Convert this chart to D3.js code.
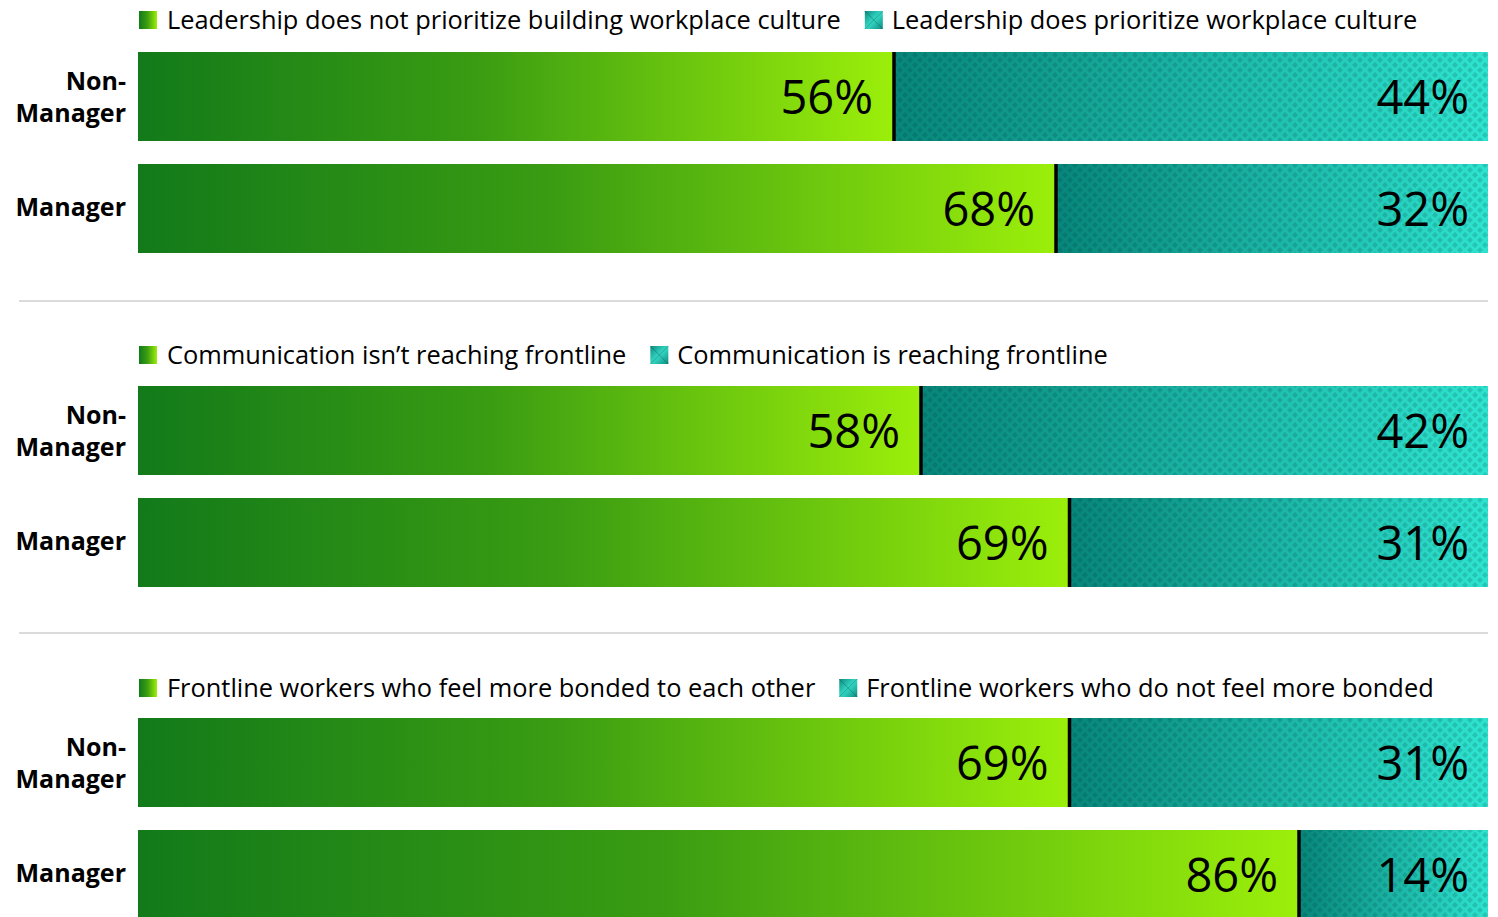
<!DOCTYPE html>
<html>
<head>
<meta charset="utf-8">
<script src="https://cdn.jsdelivr.net/npm/d3@7"></script>
<style>
	body { margin: 0; background: #fff; }
	svg { display: block; }
	text { font-family: "Open Sans", "Noto Sans", sans-serif; fill: #000; }
</style>
</head>
<body>
<svg width="1498" height="917"></svg>
<script>
// chart data
const rows = ["Non-Manager", "Manager"];
const legendLeft = [
	"Leadership does not prioritize building workplace culture",
	"Communication isn\u2019t reaching frontline",
	"Frontline workers who feel more bonded to each other",
];
const legendRight = [
	"Leadership does prioritize workplace culture",
	"Communication is reaching frontline",
	"Frontline workers who do not feel more bonded",
];
const leftValues = [
	[56, 68],
	[58, 69],
	[69, 86],
];

const svg = d3.select("svg");
const left = 138,
	right = 1488,
	barH = 89,
	barGap = 112;
const panelTop = [52, 386, 718];
const legendY = [20, 355, 688];
const dividerY = [301, 633];

const x = d3.scaleLinear().domain([0, 100]).range([left, right]);

const defs = svg.append("defs");
const green = defs.append("linearGradient").attr("id", "green");
green.append("stop").attr("offset", "0").attr("stop-color", "#127a1a");
green.append("stop").attr("offset", "0.45").attr("stop-color", "#3a9c12");
green.append("stop").attr("offset", "1").attr("stop-color", "#9cef0a");

const teal = defs.append("linearGradient").attr("id", "teal");
teal.append("stop").attr("offset", "0").attr("stop-color", "#07867a");
teal.append("stop").attr("offset", "1").attr("stop-color", "#2ee4d0");

// diamond texture laid over the teal
const pat = defs
	.append("pattern")
	.attr("id", "dots")
	.attr("patternUnits", "userSpaceOnUse")
	.attr("width", 10)
	.attr("height", 10);
const dpath = "M5,2 L8,5 L5,8 L2,5 Z M0,-3 L3,0 L0,3 L-3,0 Z M10,-3 L13,0 L10,3 L7,0 Z M0,7 L3,10 L0,13 L-3,10 Z M10,7 L13,10 L10,13 L7,10 Z";
pat.append("path").attr("d", dpath).attr("fill", "rgba(0,50,45,0.17)");

const tealSw = defs.append("linearGradient").attr("id", "tealsw").attr("x2", "1").attr("y2", "1");
tealSw.append("stop").attr("offset", "0").attr("stop-color", "#0c8c80");
tealSw.append("stop").attr("offset", "0.5").attr("stop-color", "#35d7c4");
tealSw.append("stop").attr("offset", "1").attr("stop-color", "#0c8c80");

leftValues.forEach((vals, p) => {
	const g = svg.append("g");

	// legend
	const ly = legendY[p];
	g.append("rect")
		.attr("x", 139)
		.attr("y", ly - 9)
		.attr("width", 18)
		.attr("height", 18)
		.attr("fill", "url(#green)");
	const t1 = g
		.append("text")
		.attr("x", 167)
		.attr("y", ly + 9)
		.attr("font-size", "25.4px")
		.text(legendLeft[p]);
	const sx = 167 + t1.node().getComputedTextLength() + 24;
	g.append("rect")
		.attr("x", sx)
		.attr("y", ly - 9)
		.attr("width", 18)
		.attr("height", 18)
		.attr("fill", "url(#tealsw)");
	g.append("path")
		.attr("d", `M${sx},${ly - 9}L${sx + 18},${ly + 9}M${sx + 18},${ly - 9}L${sx},${ly + 9}`)
		.attr("stroke", "rgba(0,70,60,0.35)")
		.attr("stroke-width", 1);
	g.append("text")
		.attr("x", sx + 27)
		.attr("y", ly + 9)
		.attr("font-size", "25.4px")
		.text(legendRight[p]);

	vals.forEach((v, i) => {
		const y0 = panelTop[p] + i * barGap;
		const cy = y0 + barH / 2;
		g.append("rect")
			.attr("x", x(0))
			.attr("y", y0)
			.attr("width", x(v) - x(0))
			.attr("height", barH)
			.attr("fill", "url(#green)");
		g.append("rect")
			.attr("x", x(v))
			.attr("y", y0)
			.attr("width", x(100) - x(v))
			.attr("height", barH)
			.attr("fill", "url(#teal)");
		g.append("rect")
			.attr("x", x(v))
			.attr("y", y0)
			.attr("width", x(100) - x(v))
			.attr("height", barH)
			.attr("fill", "url(#dots)");
		g.append("line")
			.attr("x1", x(v))
			.attr("x2", x(v))
			.attr("y1", y0)
			.attr("y2", y0 + barH)
			.attr("stroke", "#000")
			.attr("stroke-width", 3.5);

		g.append("text")
			.attr("x", x(v) - 21)
			.attr("y", cy + 17)
			.attr("text-anchor", "end")
			.attr("font-size", "47px")
			.text(v + "%");
		g.append("text")
			.attr("x", x(100) - 19)
			.attr("y", cy + 17)
			.attr("text-anchor", "end")
			.attr("font-size", "47px")
			.text(100 - v + "%");

		// row label
		const lab = g
			.append("text")
			.attr("x", 126)
			.attr("text-anchor", "end")
			.attr("font-size", "25px")
			.attr("font-weight", "bold");
		if (rows[i] === "Non-Manager") {
			lab.append("tspan").attr("x", 126).attr("y", cy - 7).text("Non-");
			lab.append("tspan").attr("x", 126).attr("y", cy + 25).text("Manager");
		} else {
			lab.attr("y", cy + 7).text(rows[i]);
		}
	});
});

dividerY.forEach((dy) => {
	svg.append("line")
		.attr("x1", 19)
		.attr("x2", right)
		.attr("y1", dy)
		.attr("y2", dy)
		.attr("stroke", "#cfcfcf")
		.attr("stroke-width", 1.5);
});
</script>
</body>
</html>
